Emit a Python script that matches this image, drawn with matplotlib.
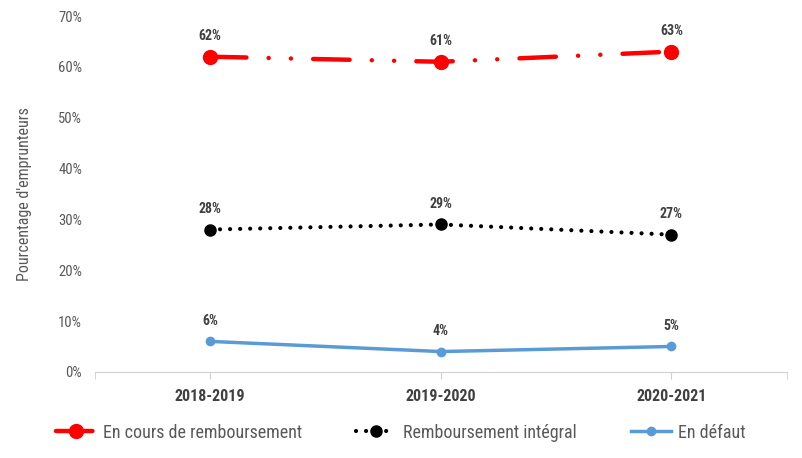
import matplotlib
matplotlib.use('Agg')
import matplotlib.pyplot as plt

# data
years = ['2018-2019', '2019-2020', '2020-2021']
en_cours = [62, 61, 63]
integral = [28, 29, 27]
defaut = [6, 4, 5]

plt.rcParams['font.family'] = ['Roboto Condensed', 'DejaVu Sans']

fig = plt.figure(figsize=(8.02, 4.58), dpi=100)
ax = fig.add_axes([0.118, 0.188, 0.863, 0.777])

x = list(range(len(years)))
ax.plot(x, en_cours, color='#ff0000', lw=3.2, marker='o', ms=10,
        dashes=(8.2, 5.0, 0.01, 5.0, 0.01, 5.0), dash_capstyle='round',
        label='En cours de remboursement')
ax.plot(x, integral, color='black', lw=3, marker='o', ms=8,
        dashes=(0.01, 2.4), dash_capstyle='round', label='Remboursement intégral')
ax.plot(x, defaut, color='#5b9bd5', lw=2.5, marker='o', ms=6,
        label='En défaut')

for series in (en_cours, integral, defaut):
    for xi, v in zip(x, series):
        ax.annotate(f'{v}%', (xi, v), xytext=(0, 10), textcoords='offset points',
                    ha='center', va='bottom', fontsize=10, fontweight='bold',
                    color='#404040')

ax.set_xlim(-0.5, 2.5)
ax.set_ylim(0, 70)
ax.set_yticks(range(0, 71, 10))
ax.set_yticklabels([f'{v}%' for v in range(0, 71, 10)])
ax.set_xticks(x)
ax.set_xticklabels(years, fontsize=11.5, color='#404040', fontweight='bold')
ax.set_xticks([-0.5, 2.5], minor=True)
ax.tick_params(axis='x', which='both', length=5, color='#d0d0d0', pad=7)
ax.tick_params(axis='y', length=0, labelsize=10.5, labelcolor='#595959', pad=9)

for s in ('top', 'right', 'left'):
    ax.spines[s].set_visible(False)
ax.spines['bottom'].set_color('#d0d0d0')

ax.set_ylabel("Pourcentage d'emprunteurs", fontsize=11.5, color='#595959')
ax.yaxis.set_label_coords(-0.09, 0.5)

fig.legend(loc='lower center', bbox_to_anchor=(0.5, 0.0), ncol=3, frameon=False,
           fontsize=13, labelcolor='#595959', handlelength=2.2, columnspacing=3.0,
           handletextpad=0.4)

fig.savefig('out.png', dpi=100)
